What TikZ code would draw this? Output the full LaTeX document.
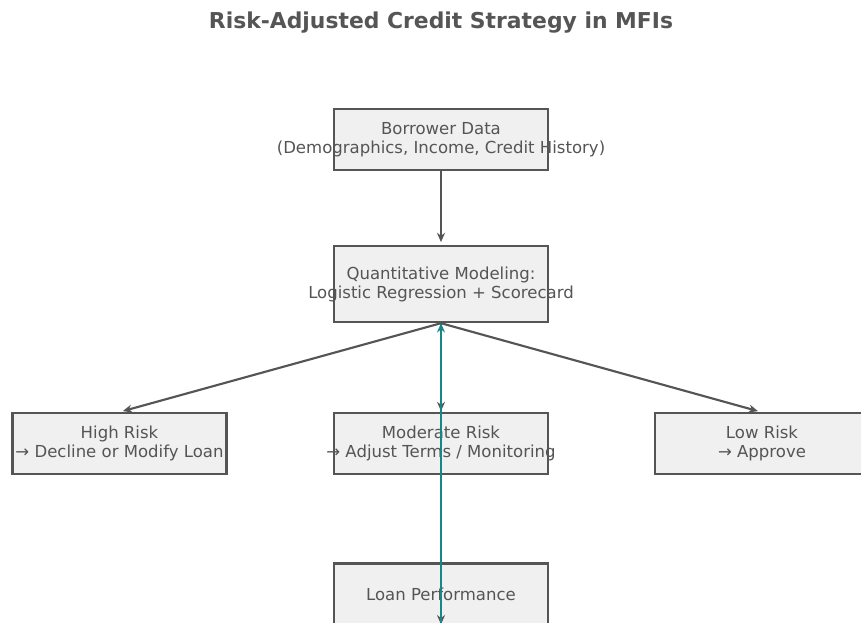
\documentclass[tikz,border=0pt]{standalone}
\usepackage{fontspec}
\setmainfont{DejaVu Sans}
\usetikzlibrary{arrows.meta}
\definecolor{txt}{HTML}{555555}
\definecolor{edge}{HTML}{555555}
\definecolor{boxfill}{HTML}{F0F0F0}
\definecolor{fb}{RGB}{22,136,132}
\tikzset{
  box/.style={draw=edge, fill=boxfill, line width=1.8pt, minimum width=160.5pt, minimum height=45.75pt, inner sep=0pt},
  lbl/.style={text=txt, align=center, font=\fontsize{12.4}{14.2}\selectfont, inner sep=0pt},
  flow/.style={draw=edge, line width=1.6pt, -{Stealth[length=7pt,width=6pt]}},
  feedback/.style={draw=fb, line width=1.9pt, -{Stealth[length=7pt,width=6pt]}}
}
\begin{document}
\begin{tikzpicture}[x=0.75pt,y=-0.75pt]
\useasboundingbox (0,0) rectangle (861,623);
\fill[white] (0,0) rectangle (861,623);
\node[text=txt, font=\fontsize{16.4}{18}\selectfont\bfseries, inner sep=0pt] (title) at (441,23) {Risk-Adjusted Credit Strategy in MFIs};
% boxes
\node[box] (bd) at (441,139.5) {};
\node[box, minimum height=57pt] (qm) at (441,284) {};
\node[box] (hr) at (119.5,443.5) {};
\node[box] (mr) at (441,443.5) {};
\node[box] (lr) at (762,443.5) {};
\node[box] (lp) at (441,594) {};
% labels
\node[lbl] (bdt) at (bd.center) {Borrower Data\\(Demographics, Income, Credit History)};
\node[lbl] (qmt) at (qm.center) {Quantitative Modeling:\\Logistic Regression + Scorecard};
\node[lbl] (hrt) at (hr.center) {High Risk\\→ Decline or Modify Loan};
\node[lbl] (mrt) at (mr.center) {Moderate Risk\\→ Adjust Terms / Monitoring};
\node[lbl] (lrt) at (lr.center) {Low Risk\\→ Approve};
\node[lbl] (lpt) at (lp.center) {Loan Performance};
% arrows
\draw[flow] (bd.south) -- ([yshift=2pt]qm.north);
\draw[flow] (qm.south) -- ([xshift=2.5pt,yshift=0.5pt]hr.north);
\draw[flow] (qm.south) -- ([yshift=0.5pt]mr.north);
\draw[flow] (qm.south) -- ([xshift=-3pt,yshift=0.5pt]lr.north);
\draw[flow] (mr.south) -- ([yshift=1pt]lp.south);
\draw[feedback] ([yshift=0pt]lp.south) -- (qm.south);
\end{tikzpicture}
\end{document}
